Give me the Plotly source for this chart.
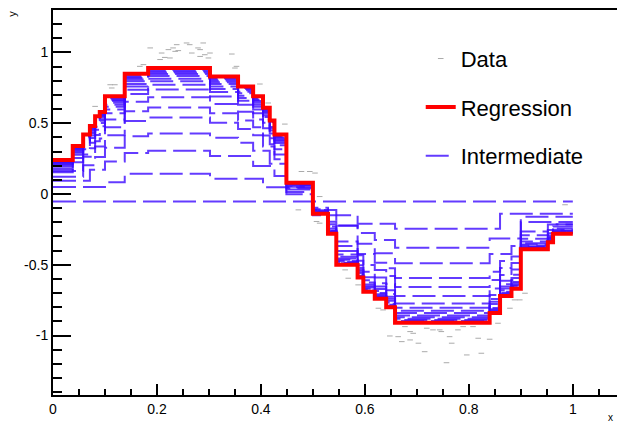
import plotly.graph_objects as go

# ---- step edges shared by the regression and its intermediate stages ----
bin_edges = [0.0, 0.038, 0.058, 0.071, 0.081, 0.09, 0.10, 0.138, 0.183, 0.302,
             0.356, 0.385, 0.404, 0.417, 0.426, 0.449, 0.50, 0.529, 0.545, 0.586,
             0.597, 0.619, 0.641, 0.658, 0.840, 0.86, 0.882, 0.90, 0.952, 0.962, 1.0]

# final boosted regression (one level per bin)
regression_levels = [0.24, 0.34, 0.42, 0.48, 0.55, 0.58, 0.69, 0.85, 0.89, 0.83,
                     0.76, 0.69, 0.61, 0.52, 0.42, 0.08, -0.14, -0.28, -0.50, -0.59,
                     -0.69, -0.74, -0.80, -0.91, -0.84, -0.72, -0.67, -0.39, -0.34, -0.28]

# starting constant of the boosting
initial_level = -0.053

# intermediate stages of the fit, one row per stage
intermediate_levels = [
    [0.05, 0.05, 0.05, 0.05, 0.05, 0.05, 0.083, 0.144, 0.144, 0.107,
     0.107, 0.107, 0.048, 0.048, 0.048, 0.048, -0.15, -0.15, -0.15, -0.21,
     -0.21, -0.21, -0.21, -0.245, -0.245, -0.14, -0.14, -0.14, -0.14, -0.14],
    [0.094, 0.094, 0.094, 0.171, 0.171, 0.171, 0.229, 0.290, 0.305, 0.269,
     0.269, 0.198, 0.198, 0.198, 0.127, -0.002, -0.113, -0.113, -0.223, -0.276,
     -0.276, -0.325, -0.325, -0.379, -0.315, -0.315, -0.315, -0.161, -0.161, -0.161],
    [0.122, 0.122, 0.204, 0.204, 0.262, 0.262, 0.326, 0.408, 0.428, 0.397,
     0.362, 0.306, 0.306, 0.214, 0.214, 0.015, -0.097, -0.225, -0.225, -0.352,
     -0.352, -0.419, -0.419, -0.490, -0.424, -0.424, -0.368, -0.198, -0.198, -0.198],
    [0.163, 0.163, 0.264, 0.264, 0.336, 0.336, 0.415, 0.516, 0.541, 0.503,
     0.459, 0.415, 0.336, 0.336, 0.245, 0.031, -0.108, -0.196, -0.335, -0.423,
     -0.423, -0.486, -0.524, -0.593, -0.549, -0.473, -0.442, -0.265, -0.215, -0.215],
    [0.154, 0.224, 0.280, 0.323, 0.372, 0.393, 0.471, 0.584, 0.612, 0.570,
     0.520, 0.471, 0.414, 0.351, 0.280, 0.041, -0.114, -0.213, -0.368, -0.432,
     -0.502, -0.537, -0.580, -0.657, -0.608, -0.523, -0.488, -0.291, -0.255, -0.213],
    [0.176, 0.254, 0.316, 0.363, 0.417, 0.441, 0.527, 0.651, 0.683, 0.636,
     0.581, 0.527, 0.464, 0.394, 0.316, 0.051, -0.121, -0.230, -0.402, -0.472,
     -0.550, -0.589, -0.636, -0.721, -0.667, -0.573, -0.534, -0.316, -0.277, -0.230],
    [0.193, 0.277, 0.344, 0.395, 0.454, 0.479, 0.571, 0.706, 0.739, 0.689,
     0.630, 0.571, 0.504, 0.428, 0.344, 0.059, -0.126, -0.244, -0.428, -0.504,
     -0.588, -0.630, -0.680, -0.773, -0.714, -0.613, -0.571, -0.336, -0.294, -0.244],
    [0.203, 0.291, 0.361, 0.413, 0.475, 0.501, 0.597, 0.737, 0.772, 0.720,
     0.658, 0.597, 0.527, 0.448, 0.361, 0.063, -0.129, -0.252, -0.444, -0.523,
     -0.610, -0.654, -0.707, -0.803, -0.742, -0.637, -0.593, -0.348, -0.304, -0.252],
    [0.211, 0.301, 0.373, 0.427, 0.490, 0.517, 0.616, 0.760, 0.796, 0.742,
     0.679, 0.616, 0.544, 0.463, 0.373, 0.067, -0.131, -0.257, -0.455, -0.536,
     -0.626, -0.671, -0.725, -0.824, -0.761, -0.653, -0.608, -0.356, -0.311, -0.257],
    [0.217, 0.309, 0.382, 0.437, 0.502, 0.529, 0.631, 0.778, 0.815, 0.759,
     0.695, 0.631, 0.557, 0.474, 0.382, 0.069, -0.133, -0.262, -0.464, -0.547,
     -0.639, -0.685, -0.740, -0.841, -0.777, -0.667, -0.621, -0.363, -0.317, -0.262],
    [0.222, 0.316, 0.392, 0.448, 0.514, 0.542, 0.645, 0.796, 0.833, 0.777,
     0.711, 0.645, 0.570, 0.486, 0.392, 0.072, -0.135, -0.266, -0.473, -0.558,
     -0.652, -0.699, -0.755, -0.859, -0.793, -0.680, -0.633, -0.370, -0.323, -0.266],
    [0.227, 0.322, 0.399, 0.456, 0.523, 0.552, 0.657, 0.809, 0.848, 0.790,
     0.723, 0.657, 0.580, 0.494, 0.399, 0.074, -0.136, -0.270, -0.480, -0.566,
     -0.661, -0.709, -0.766, -0.871, -0.805, -0.690, -0.642, -0.375, -0.327, -0.270],
    [0.230, 0.327, 0.404, 0.462, 0.530, 0.559, 0.665, 0.820, 0.859, 0.801,
     0.733, 0.665, 0.588, 0.501, 0.404, 0.076, -0.137, -0.273, -0.485, -0.572,
     -0.669, -0.717, -0.775, -0.882, -0.814, -0.698, -0.650, -0.379, -0.331, -0.273],
    [0.233, 0.331, 0.409, 0.468, 0.536, 0.565, 0.673, 0.829, 0.868, 0.810,
     0.741, 0.673, 0.595, 0.507, 0.409, 0.077, -0.138, -0.275, -0.490, -0.578,
     -0.675, -0.724, -0.783, -0.890, -0.822, -0.705, -0.656, -0.382, -0.333, -0.275],
    [0.236, 0.334, 0.413, 0.473, 0.542, 0.571, 0.680, 0.837, 0.877, 0.818,
     0.749, 0.680, 0.601, 0.512, 0.413, 0.078, -0.139, -0.277, -0.494, -0.582,
     -0.681, -0.730, -0.790, -0.898, -0.829, -0.711, -0.661, -0.385, -0.336, -0.277],
]

# noisy training sample (points that stand clear of the fitted curves)
data_x = [0.187, 0.209, 0.215, 0.222, 0.231, 0.238, 0.235, 0.241, 0.206, 0.225,
          0.174, 0.167, 0.110, 0.119, 0.113, 0.081, 0.257, 0.267, 0.279, 0.263,
          0.283, 0.292, 0.283, 0.299, 0.289, 0.302, 0.344, 0.353, 0.350, 0.398,
          0.414, 0.446, 0.478, 0.494, 0.504, 0.513, 0.472, 0.507, 0.513, 0.562,
          0.568, 0.587, 0.626, 0.635, 0.677, 0.687, 0.693, 0.648, 0.664, 0.687,
          0.703, 0.715, 0.671, 0.731, 0.747, 0.763, 0.789, 0.808, 0.767, 0.818,
          0.840, 0.824, 0.796, 0.856, 0.879, 0.888, 0.898, 0.908, 0.757, 0.744,
          0.779, 0.719, 0.985]
data_y = [1.032, 0.996, 0.965, 1.020, 1.032, 1.055, 1.008, 1.013, 0.950, 0.961,
          0.914, 0.902, 0.772, 0.772, 0.749, 0.619, 1.067, 0.996, 1.032, 1.055,
          1.020, 0.984, 0.972, 0.961, 1.067, 0.996, 0.989, 0.902, 0.890, 0.777,
          0.643, 0.494, 0.159, 0.159, 0.148, -0.018, -0.112, -0.194, -0.206, -0.536,
          -0.595, -0.642, -0.807, -0.819, -0.937, -0.972, -0.984, -1.003, -1.008, -1.031,
          -1.054, -1.114, -1.043, -0.960, -0.972, -1.008, -0.937, -0.937, -1.054, -1.019,
          -1.026, -1.125, -1.137, -0.913, -0.807, -0.748, -0.748, -0.701, -1.192, -0.960,
          -0.960, -0.948, -0.076]

x_tick_vals = [0, 0.2, 0.4, 0.6, 0.8, 1.0]
x_tick_text = ["0", "0.2", "0.4", "0.6", "0.8", "1"]
y_tick_vals = [1, 0.5, 0, -0.5, -1]
y_tick_text = ["1", "0.5", "0", "-0.5", "-1"]

BLUE = "rgba(60,10,255,0.8)"
DASH = "23px,7px"


def step_y(levels):
    return list(levels) + [levels[-1]]


fig = go.Figure()

fig.add_trace(go.Scatter(
    x=data_x, y=data_y, mode="markers", name="Data",
    marker=dict(symbol="line-ew", size=4, color="#aaaaaa",
                line=dict(width=1, color="#aaaaaa")),
    legendgroup="data", legendrank=1,
))

# initial constant model
fig.add_trace(go.Scatter(
    x=[bin_edges[0], bin_edges[-1]], y=[initial_level, initial_level],
    mode="lines", name="Intermediate", legendgroup="inter", legendrank=3,
    line=dict(color=BLUE, width=2, dash=DASH), showlegend=True,
))

for levels in intermediate_levels:
    fig.add_trace(go.Scatter(
        x=bin_edges, y=step_y(levels), mode="lines", line_shape="hv",
        line=dict(color=BLUE, width=2, dash=DASH),
        legendgroup="inter", legendrank=3, showlegend=False, hoverinfo="skip",
    ))

fig.add_trace(go.Scatter(
    x=bin_edges, y=step_y(regression_levels), mode="lines", line_shape="hv",
    name="Regression", legendgroup="reg", legendrank=2,
    line=dict(color="#ff0000", width=4),
))

fig.update_layout(
    width=617, height=426,
    margin=dict(l=53, r=0, t=10, b=31),
    paper_bgcolor="white", plot_bgcolor="white",
    font=dict(family="Liberation Sans, Arial, sans-serif", color="black"),
    showlegend=True,
    legend=dict(
        x=0.652, y=0.928, xanchor="left", yanchor="top",
        bgcolor="rgba(0,0,0,0)", borderwidth=0,
        font=dict(size=22, color="black"),
        traceorder="grouped", tracegroupgap=17,
    ),
    xaxis=dict(
        range=[0, 1.085], showgrid=False, zeroline=False,
        showline=True, linecolor="black", linewidth=2, mirror=True,
        tickvals=x_tick_vals, ticktext=x_tick_text,
        ticks="inside", ticklen=11, tickwidth=1.5, tickcolor="black",
        minor=dict(dtick=0.05, tick0=0, ticks="inside", ticklen=6,
                   tickwidth=1.5, tickcolor="black", showgrid=False),
        tickfont=dict(size=14),
    ),
    yaxis=dict(
        range=[-1.42, 1.30], showgrid=False, zeroline=False,
        showline=True, linecolor="black", linewidth=2,
        tickvals=y_tick_vals, ticktext=y_tick_text,
        ticks="inside", ticklen=18, tickwidth=1.5, tickcolor="black",
        minor=dict(dtick=0.1, tick0=0, ticks="inside", ticklen=9,
                   tickwidth=1.5, tickcolor="black", showgrid=False),
        tickfont=dict(size=14),
    ),
)

# axis titles at the axis ends
fig.add_annotation(text="y", x=-0.073, y=0.99, xref="paper", yref="paper",
                   xanchor="center", yanchor="middle",
                   showarrow=False, textangle=-90, font=dict(size=11))
fig.add_annotation(text="x", xref="paper", yref="paper", x=0.997, y=-0.038,
                   xanchor="right", yanchor="top", showarrow=False,
                   font=dict(size=10))

fig.write_html("out.html")
